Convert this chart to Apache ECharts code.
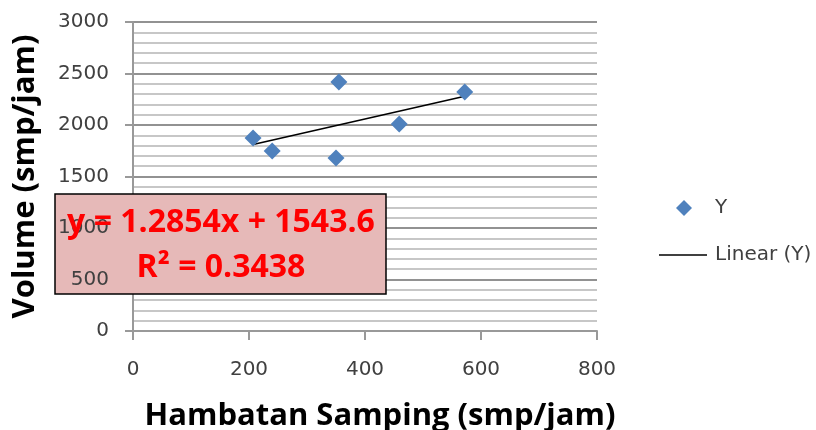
<!DOCTYPE html>
<html><head><meta charset="utf-8">
<script src="https://cdn.jsdelivr.net/npm/echarts@6/dist/echarts.min.js"></script>
<style>html,body{margin:0;padding:0;background:#fff}#c{width:816px;height:430px}</style>
</head><body><div id="c"></div>
<script>
var xValues = [207, 240, 355, 350, 459, 572];
var yValues = [1874, 1748, 2417, 1680, 2010, 2320];
var slope = 1.2854, intercept = 1543.6, r2 = 0.3438;
var xTicks = [0, 200, 400, 600, 800];
var yTicks = [0, 500, 1000, 1500, 2000, 2500, 3000];

var pts = xValues.map(function(x, i){ return [x, yValues[i]]; });
var xmin = Math.min.apply(null, xValues), xmax = Math.max.apply(null, xValues);
var trend = [[xmin, slope*xmin+intercept], [xmax, slope*xmax+intercept]];
var LFONT = 'DejaVu Sans';
var BFONT = 'Open Sans';
var yMin = yTicks[0], yMax = yTicks[yTicks.length-1];

var chart = echarts.init(document.getElementById('c'));
chart.setOption({
  animation: false,
  textStyle: {fontFamily: LFONT},
  grid: {left: 133, right: 219, top: 22, bottom: 99, outerBoundsMode: 'none', containLabel: false},
  xAxis: {
    type: 'value', min: xTicks[0], max: xTicks[xTicks.length-1], interval: 200,
    name: 'Hambatan Samping (smp/jam)', nameLocation: 'middle', nameGap: 70,
    nameTextStyle: {fontSize: 31, fontWeight: 'bold', color: '#000', fontFamily: BFONT, padding: [0,0,0,30]},
    axisLine: {show: true, lineStyle: {color: '#999', width: 2}},
    axisTick: {show: true, length: 9, lineStyle: {color: '#999', width: 2}},
    axisLabel: {fontSize: 20, color: '#404040', margin: 29, fontFamily: LFONT,
      formatter: function(v){ return String(v); }},
    splitLine: {show: false}
  },
  yAxis: [{
    type: 'value', min: yMin, max: yMax, interval: 500, z: 0,
    name: 'Volume (smp/jam)', nameLocation: 'middle', nameGap: 92,
    nameTextStyle: {fontSize: 31, fontWeight: 'bold', color: '#000', fontFamily: BFONT},
    axisLine: {show: true, lineStyle: {color: '#999', width: 2}},
    axisTick: {show: true, length: 8, lineStyle: {color: '#999', width: 2}},
    axisLabel: {show: false},
    splitLine: {show: true, lineStyle: {color: '#929292', width: 2}},
    minorTick: {show: false, splitNumber: 5},
    minorSplitLine: {show: true, lineStyle: {color: '#b4b4b4', width: 1.6}}
  }, {
    type: 'value', min: yMin, max: yMax, interval: 500, z: 200, position: 'left',
    axisLine: {show: false}, axisTick: {show: false}, splitLine: {show: false},
    axisLabel: {fontSize: 20, color: '#404040', margin: 24, fontFamily: LFONT, padding: [5,0,0,0],
      formatter: function(v){ return String(v); }}
  }],
  legend: [{
    data: ['Y'], left: 671, top: 193, itemWidth: 16, itemHeight: 16,
    textStyle: {fontSize: 20, color: '#404040', fontFamily: LFONT, padding: [0,0,0,18]}
  }, {
    data: [{name: 'Linear (Y)', icon: 'rect'}], left: 654, top: 240, itemWidth: 48, itemHeight: 1.5,
    itemStyle: {color: '#000'},
    textStyle: {fontSize: 20, color: '#404040', fontFamily: LFONT, padding: [0,0,0,3]}
  }],
  series: [{
    name: 'Y', type: 'scatter', data: pts, symbol: 'diamond', symbolSize: 17,
    itemStyle: {color: '#4f81bd', opacity: 1}, z: 3
  }, {
    name: 'Linear (Y)', type: 'line', data: trend, symbol: 'none',
    lineStyle: {color: '#000', width: 1.5}, itemStyle: {color: '#000'}, z: 2
  }],
  graphic: [{
    type: 'rect', z: 100,
    shape: {x: 55, y: 194, width: 331, height: 100},
    style: {fill: '#e6b9b8', stroke: '#000', lineWidth: 1.5}
  }, {
    type: 'text', z: 300, x: 221, y: 223,
    style: {text: 'y = ' + slope + 'x + ' + intercept, fill: '#ff0000', font: 'bold 32px "' + BFONT + '"', align: 'center', verticalAlign: 'middle'}
  }, {
    type: 'text', z: 300, x: 221, y: 268,
    style: {text: 'R² = ' + r2, fill: '#ff0000', font: 'bold 32px "' + BFONT + '"', align: 'center', verticalAlign: 'middle'}
  }]
});
</script></body></html>
